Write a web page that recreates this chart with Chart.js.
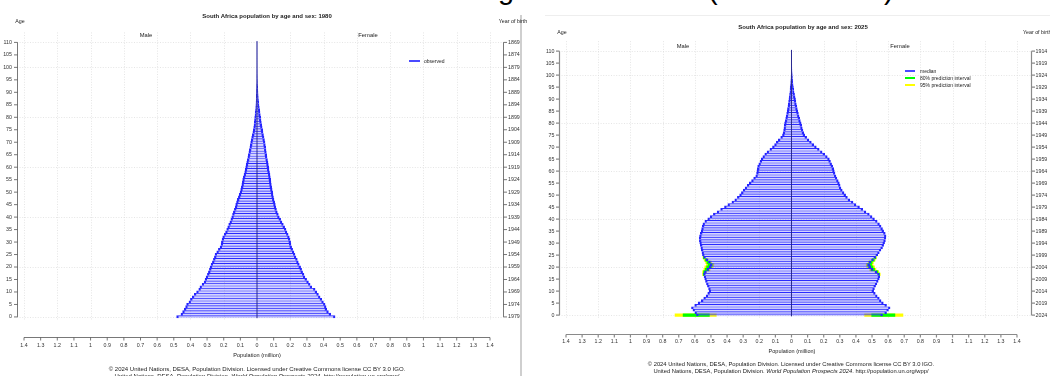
<!DOCTYPE html>
<html><head><meta charset="utf-8">
<script src="https://cdn.jsdelivr.net/npm/chart.js@4.4.1/dist/chart.umd.min.js"></script>
<style>
html,body{margin:0;padding:0;background:#fff;width:1050px;height:376px;overflow:hidden;position:relative;font-family:'Liberation Sans',Arial,sans-serif;}
canvas{position:absolute;top:0;}
.t{position:absolute;white-space:nowrap;transform:translate(-50%,-50%);color:#222;line-height:1;}
.l{position:absolute;white-space:nowrap;transform:translate(0,-50%);color:#222;line-height:1;}
.big{position:absolute;top:-25px;font-size:29px;line-height:29px;color:#000;font-family:'Liberation Sans',Arial,sans-serif;}
.ln{position:absolute;height:2px;}
</style></head><body>
<span class="big" style="left:498px">g</span>
<span class="big" style="left:708px">(</span>
<span class="big" style="left:884px">)</span>
<div style="position:absolute;left:545px;top:15px;width:505px;height:1px;background:#eeeeee"></div>
<div style="position:absolute;left:520px;top:15px;width:2px;height:361px;background:#cfcfcf"></div>
<canvas id="c1" width="535" height="376" style="left:0"></canvas>
<canvas id="c2" width="530" height="376" style="left:520px"></canvas>

<div class="t" style="left:267px;top:16px;font-size:6px;font-weight:bold">South Africa population by age and sex: 1980</div>
<div class="t" style="left:20px;top:22px;font-size:5.3px">Age</div>
<div class="t" style="left:513px;top:22px;font-size:5.3px">Year of birth</div>
<div class="t" style="left:146px;top:36px;font-size:5.8px">Male</div>
<div class="t" style="left:368px;top:36px;font-size:5.8px">Female</div>
<div class="ln" style="left:409px;top:60px;width:11px;background:#4a4aff"></div>
<div class="l" style="left:424px;top:61px;font-size:5px">observed</div>
<div class="t" style="left:257px;top:356px;font-size:5.6px">Population (million)</div>
<div class="t" style="left:257px;top:369px;font-size:6px">© 2024 United Nations, DESA, Population Division. Licensed under Creative Commons license CC BY 3.0 IGO.</div>
<div class="t" style="left:257px;top:376px;font-size:6px">United Nations, DESA, Population Division. <i>World Population Prospects 2024</i>. http://population.un.org/wpp/</div>

<div class="t" style="left:803px;top:27px;font-size:6px;font-weight:bold">South Africa population by age and sex: 2025</div>
<div class="t" style="left:562px;top:33px;font-size:5.3px">Age</div>
<div class="l" style="left:1023px;top:33px;font-size:5.3px">Year of birth</div>
<div class="t" style="left:683px;top:47px;font-size:5.8px">Male</div>
<div class="t" style="left:900px;top:47px;font-size:5.8px">Female</div>
<div class="ln" style="left:905px;top:70px;width:10px;background:#4a4aff"></div>
<div class="ln" style="left:905px;top:77px;width:10px;background:#00ff00"></div>
<div class="ln" style="left:905px;top:84px;width:10px;background:#ffff00"></div>
<div class="l" style="left:920px;top:71px;font-size:5px">median</div>
<div class="l" style="left:920px;top:78px;font-size:5px">80% prediction interval</div>
<div class="l" style="left:920px;top:85px;font-size:5px">95% prediction interval</div>
<div class="t" style="left:792px;top:352px;font-size:5.5px">Population (million)</div>
<div class="t" style="left:791px;top:365px;font-size:5.8px">© 2024 United Nations, DESA, Population Division. Licensed under Creative Commons license CC BY 3.0 IGO.</div>
<div class="t" style="left:791px;top:372px;font-size:5.8px">United Nations, DESA, Population Division. <i>World Population Prospects 2024</i>. http://population.un.org/wpp/</div>

<script>
const ages = [0,1,2,3,4,5,6,7,8,9,10,11,12,13,14,15,16,17,18,19,20,21,22,23,24,25,26,27,28,29,30,31,32,33,34,35,36,37,38,39,40,41,42,43,44,45,46,47,48,49,50,51,52,53,54,55,56,57,58,59,60,61,62,63,64,65,66,67,68,69,70,71,72,73,74,75,76,77,78,79,80,81,82,83,84,85,86,87,88,89,90,91,92,93,94,95,96,97,98,99,100,101,102,103,104,105,106,107,108,109,110];

const male1980 = [0.483,0.457,0.447,0.437,0.429,0.423,0.409,0.400,0.389,0.377,
0.363,0.350,0.343,0.330,0.318,0.312,0.306,0.298,0.292,0.286,
0.282,0.276,0.268,0.262,0.256,0.252,0.242,0.232,0.222,0.216,
0.214,0.210,0.206,0.197,0.189,0.182,0.176,0.170,0.163,0.157,
0.152,0.147,0.142,0.136,0.131,0.128,0.123,0.118,0.112,0.107,
0.102,0.098,0.094,0.091,0.088,0.086,0.082,0.078,0.074,0.071,
0.068,0.065,0.062,0.058,0.055,0.052,0.049,0.046,0.043,0.040,
0.038,0.035,0.032,0.028,0.025,0.022,0.020,0.018,0.016,0.015,
0.014,0.012,0.011,0.009,0.008,0.007,0.006,0.005,0.004,0.004,
0.003,0.003,0.002,0.002,0.001,0.001,0.001,0.0008,0.0006,0.0005,
0.0004,0.0003,0.0002,0.0002,0.0001,0.0001,0.0001,0.00005,0.00005,0.00003,0.00002];

const female1980 = [0.469,0.443,0.429,0.419,0.415,0.409,0.399,0.389,0.379,0.369,
0.359,0.349,0.329,0.319,0.309,0.298,0.288,0.282,0.274,0.268,
0.262,0.254,0.248,0.242,0.234,0.228,0.222,0.214,0.208,0.204,
0.202,0.198,0.194,0.187,0.180,0.174,0.166,0.158,0.150,0.142,
0.134,0.128,0.122,0.117,0.113,0.110,0.106,0.102,0.099,0.096,
0.094,0.091,0.088,0.086,0.084,0.082,0.080,0.078,0.075,0.072,
0.070,0.068,0.066,0.063,0.060,0.058,0.056,0.054,0.052,0.050,
0.048,0.045,0.042,0.039,0.036,0.034,0.031,0.028,0.026,0.024,
0.022,0.020,0.018,0.016,0.014,0.012,0.011,0.009,0.008,0.007,
0.006,0.005,0.004,0.003,0.0025,0.002,0.0016,0.0012,0.001,0.0008,
0.0006,0.0005,0.0004,0.0003,0.0002,0.0002,0.0001,0.0001,0.00006,0.00004,0.00002];

const male2025 = [0.590,0.600,0.612,0.621,0.601,0.580,0.560,0.545,0.530,0.520,
0.512,0.515,0.522,0.528,0.534,0.539,0.543,0.546,0.540,0.525,
0.512,0.505,0.515,0.530,0.545,0.553,0.556,0.560,0.563,0.566,
0.570,0.572,0.573,0.571,0.566,0.561,0.558,0.554,0.550,0.538,
0.520,0.505,0.485,0.462,0.440,0.416,0.395,0.370,0.352,0.336,
0.322,0.311,0.300,0.288,0.275,0.262,0.248,0.235,0.222,0.217,
0.215,0.212,0.210,0.203,0.195,0.188,0.178,0.166,0.152,0.134,
0.118,0.105,0.094,0.082,0.067,0.056,0.052,0.049,0.047,0.045,
0.043,0.039,0.036,0.033,0.030,0.027,0.025,0.022,0.020,0.018,
0.016,0.014,0.012,0.010,0.009,0.008,0.006,0.005,0.004,0.003,
0.002,0.0016,0.0012,0.001,0.0008,0.0006,0.0004,0.0003,0.0002,0.0001,0.0001];

const female2025 = [0.565,0.590,0.602,0.612,0.590,0.570,0.556,0.545,0.532,0.520,
0.510,0.515,0.522,0.530,0.538,0.545,0.548,0.545,0.530,0.505,
0.492,0.485,0.492,0.508,0.522,0.535,0.545,0.555,0.565,0.572,
0.578,0.583,0.586,0.587,0.582,0.572,0.565,0.556,0.546,0.532,
0.515,0.500,0.483,0.462,0.442,0.422,0.400,0.382,0.362,0.347,
0.336,0.326,0.315,0.307,0.302,0.297,0.290,0.282,0.276,0.270,
0.266,0.262,0.256,0.249,0.242,0.235,0.222,0.206,0.190,0.172,
0.154,0.138,0.123,0.108,0.094,0.082,0.076,0.071,0.067,0.063,
0.060,0.055,0.051,0.047,0.043,0.039,0.036,0.033,0.030,0.027,
0.025,0.022,0.019,0.016,0.014,0.012,0.010,0.008,0.007,0.006,
0.005,0.004,0.003,0.0024,0.0018,0.0013,0.001,0.0007,0.0005,0.0003,0.0002];

// prediction intervals, 2025
const piAges = [0,17,18,19,20,21,22,23,24];
const maleLo80 = [0.508,0.542,0.532,0.512,0.495,0.490,0.503,0.522,0.541];
const maleHi80 = [0.675,0.550,0.548,0.538,0.529,0.520,0.527,0.538,0.549];
const maleLo95 = [0.465,0.538,0.526,0.504,0.485,0.480,0.495,0.516,0.538];
const maleHi95 = [0.725,0.554,0.554,0.546,0.540,0.530,0.535,0.544,0.552];
const femaleLo80 = [0.496,0.541,0.522,0.492,0.476,0.471,0.481,0.500,0.518];
const femaleHi80 = [0.644,0.549,0.538,0.518,0.508,0.499,0.503,0.516,0.526];
const femaleLo95 = [0.452,0.537,0.516,0.484,0.466,0.462,0.474,0.495,0.515];
const femaleHi95 = [0.694,0.553,0.544,0.526,0.518,0.508,0.510,0.521,0.529];

const xTicks = [-1.4,-1.3,-1.2,-1.1,-1,-0.9,-0.8,-0.7,-0.6,-0.5,-0.4,-0.3,-0.2,-0.1,0,0.1,0.2,0.3,0.4,0.5,0.6,0.7,0.8,0.9,1,1.1,1.2,1.3,1.4];
const gridX = [-1.4,-1.2,-1,-0.8,-0.6,-0.4,-0.2,0.2,0.4,0.6,0.8,1,1.2,1.4];
const ageTicks = [0,5,10,15,20,25,30,35,40,45,50,55,60,65,70,75,80,85,90,95,100,105,110];
const gridAges = [0,20,40,60,80,100,110];
const birthYears1980 = [1979,1974,1969,1964,1959,1954,1949,1944,1939,1934,1929,1924,1919,1914,1909,1904,1899,1894,1889,1884,1879,1874,1869];
const birthYears2025 = [2024,2019,2014,2009,2004,1999,1994,1989,1984,1979,1974,1969,1964,1959,1954,1949,1944,1939,1934,1929,1924,1919,1914];

const FONT = 'Liberation Sans, Arial, sans-serif';
const fmtX = v => { const a = Math.abs(v); return a.toFixed(1).replace(/\.0$/, ''); };

const framePlugin = {
  id: 'frame',
  beforeDatasetsDraw(chart, args, o) {
    const {ctx, chartArea: a, scales: {x, y}} = chart;
    ctx.save();
    ctx.strokeStyle = '#dadada';
    ctx.lineWidth = 0.7;
    ctx.setLineDash([1, 1.6]);
    const yt = y.getPixelForValue(110) - 10, yb = y.getPixelForValue(0) + 4;
    for (const v of gridX) {
      const px = Math.round(x.getPixelForValue(v)) + 0.5;
      ctx.beginPath(); ctx.moveTo(px, yt); ctx.lineTo(px, yb); ctx.stroke();
    }
    for (const v of gridAges) {
      const py = Math.round(y.getPixelForValue(v)) + 0.5;
      ctx.beginPath(); ctx.moveTo(a.left, py); ctx.lineTo(a.right, py); ctx.stroke();
    }
    ctx.restore();
  },
  afterDatasetsDraw(chart, args, o) {
    const {ctx, chartArea: a, scales: {x, y}} = chart;
    ctx.save();
    ctx.strokeStyle = '#2a2a90';
    ctx.lineWidth = 1;
    const cx = x.getPixelForValue(0);
    ctx.beginPath(); ctx.moveTo(cx, y.getPixelForValue(-0.5)); ctx.lineTo(cx, y.getPixelForValue(110.5)); ctx.stroke();
    ctx.strokeStyle = o.axisColor;
    ctx.lineWidth = o.axisWidth;
    const y0 = y.getPixelForValue(0), y110 = y.getPixelForValue(110);
    const lx = a.left + 0.5, rx = a.right - 0.5;
    ctx.beginPath();
    ctx.moveTo(lx, y0); ctx.lineTo(lx, y110);
    ctx.moveTo(rx, y0); ctx.lineTo(rx, y110);
    for (const v of ageTicks) {
      const py = y.getPixelForValue(v);
      ctx.moveTo(lx - 3.5, py); ctx.lineTo(lx, py);
      ctx.moveTo(rx, py); ctx.lineTo(rx + 3.5, py);
    }
    const by = a.bottom + 0.5;
    ctx.moveTo(x.getPixelForValue(-1.4), by); ctx.lineTo(x.getPixelForValue(1.4), by);
    for (const v of xTicks) {
      const px = x.getPixelForValue(v);
      ctx.moveTo(px, by); ctx.lineTo(px, by + 3);
    }
    ctx.stroke();
    ctx.restore();
  }
};

function makePyramid(id, cfg) {
  const W = cfg.width, H = 376;
  const tickFont = {family: FONT, size: 5.3};
  new Chart(document.getElementById(id), {
    type: 'bar',
    data: {datasets: cfg.datasets},
    options: {
      responsive: false, animation: false, indexAxis: 'y',
      layout: {padding: {top: cfg.top, left: 0, right: 0, bottom: 0}},
      datasets: {bar: {grouped: false, barPercentage: 1, categoryPercentage: 1}},
      plugins: {
        legend: {display: false}, tooltip: {enabled: false}, title: {display: false},
        frame: {axisColor: cfg.axisColor, axisWidth: cfg.axisWidth}
      },
      scales: {
        x: {
          type: 'linear', position: 'bottom', min: cfg.xMin, max: cfg.xMax,
          grid: {display: false, drawTicks: false}, border: {display: false},
          afterBuildTicks: s => { s.ticks = xTicks.map(v => ({value: v})); },
          afterFit: s => { s.height = H - cfg.bottom; },
          ticks: {autoSkip: false, maxRotation: 0, padding: cfg.xPad, font: tickFont, color: '#333', callback: v => fmtX(v)}
        },
        y: {
          type: 'linear', position: 'left', min: cfg.yMin, max: cfg.yMax,
          grid: {display: false, drawTicks: false}, border: {display: false},
          afterBuildTicks: s => { s.ticks = ageTicks.map(v => ({value: v})); },
          afterFit: s => { s.width = cfg.left; },
          ticks: {autoSkip: false, padding: cfg.yPad, font: tickFont, color: '#333', callback: v => String(v)}
        },
        y2: {
          type: 'linear', position: 'right', min: cfg.yMin, max: cfg.yMax,
          grid: {display: false, drawTicks: false}, border: {display: false},
          afterBuildTicks: s => { s.ticks = ageTicks.map(v => ({value: v})); },
          afterFit: s => { s.width = W - cfg.right; },
          ticks: {autoSkip: false, padding: cfg.y2Pad, font: tickFont, color: '#333', callback: v => String(cfg.years[ageTicks.indexOf(v)])}
        }
      }
    },
    plugins: [framePlugin]
  });
}

const BAR_FILL = 'rgba(70,70,255,0.24)';
const BAR_LINE = '#2525ff';
function barSet(label, vals, sign, order) {
  return {
    label, order, yAxisID: 'y', xAxisID: 'x',
    data: vals.map((v, i) => ({x: sign * v, y: ages[i]})),
    backgroundColor: BAR_FILL, borderColor: BAR_LINE,
    borderWidth: sign < 0 ? {left: 1.6, top: 0.3, right: 0, bottom: 0} : {right: 1.6, top: 0.3, left: 0, bottom: 0},
    borderSkipped: false
  };
}
function piSet(label, lo, hi, sign, color, order) {
  return {
    label, order, yAxisID: 'y', xAxisID: 'x',
    data: piAges.map((a, i) => ({x: [sign * lo[i], sign * hi[i]], y: a})),
    backgroundColor: color, borderWidth: 0, barPercentage: 1.35
  };
}

makePyramid('c1', {
  width: 535, top: 30, bottom: 337, left: 17, right: 504,
  xMin: -1.4421, xMax: 1.4841, yMin: -5.366, yMax: 112.30,
  xPad: 5.8, yPad: 5, y2Pad: 4, years: birthYears1980,
  axisColor: '#555', axisWidth: 0.8,
  datasets: [barSet('male', male1980, -1, 0), barSet('female', female1980, 1, 0)]
});

makePyramid('c2', {
  width: 530, top: 38, bottom: 334, left: 39, right: 512,
  xMin: -1.4435, xMax: 1.4932, yMin: -5.181, yMax: 112.79,
  xPad: 4.8, yPad: 4.5, y2Pad: 3.5, years: birthYears2025,
  axisColor: '#8a8a8a', axisWidth: 1.2,
  datasets: [
    barSet('male median', male2025, -1, 0), barSet('female median', female2025, 1, 0),
    piSet('male 80%', maleLo80, maleHi80, -1, '#00ff00', 1), piSet('female 80%', femaleLo80, femaleHi80, 1, '#00ff00', 1),
    piSet('male 95%', maleLo95, maleHi95, -1, '#ffff00', 2), piSet('female 95%', femaleLo95, femaleHi95, 1, '#ffff00', 2)
  ]
});
</script>
</body></html>
